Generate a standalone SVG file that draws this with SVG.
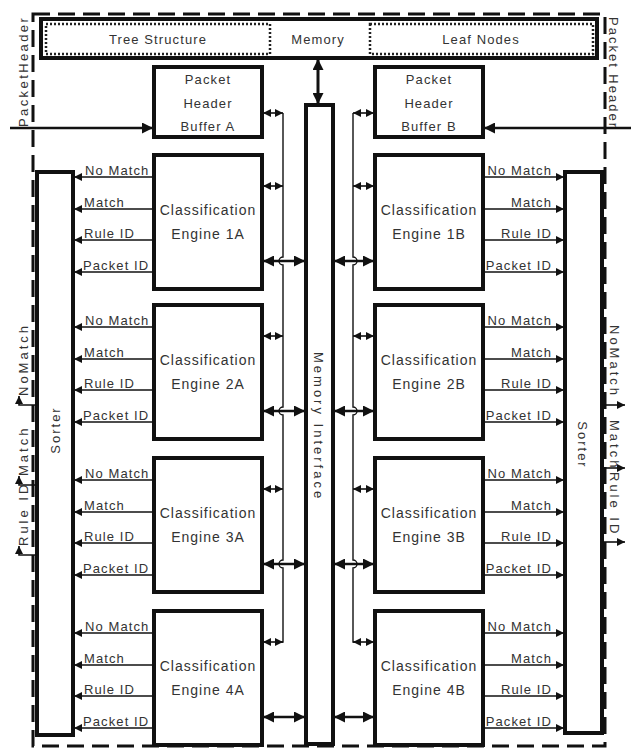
<svg xmlns="http://www.w3.org/2000/svg" width="631" height="749" viewBox="0 0 631 749">
<style>
.box{fill:#fff;stroke:#111;stroke-width:4}
.t{font-family:"Liberation Sans",Arial,sans-serif;font-size:13px;fill:#333;letter-spacing:1.1px}
.c{text-anchor:middle}
.e{text-anchor:end}
.eng{font-size:14px;letter-spacing:1px}
.sig{stroke:#111;stroke-width:1.6;fill:none;marker-end:url(#sa)}
.dbl{stroke:#111;stroke-width:1.6;fill:none;marker-start:url(#sa);marker-end:url(#sa)}
.big{stroke:#111;stroke-width:2.5;fill:none;marker-start:url(#ba);marker-end:url(#ba)}
.bus{stroke:#111;stroke-width:1.4;fill:none}
.dash{fill:none;stroke:#111;stroke-width:3;stroke-dasharray:17 8}
.dot{fill:none;stroke:#222;stroke-width:2.5;stroke-dasharray:2 2}
</style>
<defs>
<marker id="sa" viewBox="0 0 10 10" refX="10" refY="5" markerWidth="8" markerHeight="8" markerUnits="userSpaceOnUse" orient="auto-start-reverse"><path d="M0,0 L10,5 L0,10 z" fill="#111"/></marker>
<marker id="ba" viewBox="0 0 10 10" refX="10" refY="5" markerWidth="13" markerHeight="11" markerUnits="userSpaceOnUse" orient="auto-start-reverse"><path d="M0,0 L10,5 L0,10 z" fill="#111"/></marker>
<marker id="ha" viewBox="0 0 10 10" refX="10" refY="5" markerWidth="15" markerHeight="11" markerUnits="userSpaceOnUse" orient="auto"><path d="M0,0 L10,5 L0,10 z" fill="#111"/></marker>
</defs>
<rect width="631" height="749" fill="#fff"/>

<rect class="dash" x="33" y="14" width="572" height="732"/>

<g id="memory">
<rect x="41" y="19" width="556" height="39" fill="#fff" stroke="#111" stroke-width="4"/>
<rect class="dot" x="46" y="24" width="224" height="30"/>
<rect class="dot" x="370" y="24" width="223" height="30"/>
<text class="t c" x="158" y="44">Tree Structure</text>
<text class="t c" x="318" y="44">Memory</text>
<text class="t c" x="481" y="44">Leaf Nodes</text>
</g>

<g id="header-labels">
<text class="t" transform="translate(28,127) rotate(-90)" style="letter-spacing:2.4px">PacketHeader</text>
<text class="t" transform="translate(609,17) rotate(90)" style="letter-spacing:2px">Packet Header</text>
</g>

<g id="bufA">
<rect class="box" x="154" y="67" width="108" height="70"/>
<text class="t c" x="208" y="84">Packet</text>
<text class="t c" x="208" y="108">Header</text>
<text class="t c" x="208" y="131">Buffer A</text>
</g>
<g id="bufB">
<rect class="box" x="375" y="67" width="108" height="70"/>
<text class="t c" x="429" y="84">Packet</text>
<text class="t c" x="429" y="108">Header</text>
<text class="t c" x="429" y="131">Buffer B</text>
</g>

<g id="memif">
<rect class="box" x="306" y="105" width="27" height="639"/>
<text class="t" transform="translate(314,352) rotate(90)" style="letter-spacing:3px">Memory Interface</text>
</g>

<g id="sorterL">
<rect class="box" x="37" y="172" width="36" height="563"/>
<text class="t c" transform="translate(60,430) rotate(-90)" style="letter-spacing:2px">Sorter</text>
</g>
<g id="sorterR">
<rect class="box" x="565" y="172" width="37" height="561"/>
<text class="t c" transform="translate(578,445) rotate(90)" style="letter-spacing:2px">Sorter</text>
</g>

<g id="e1A"><rect class="box" x="154" y="155" width="108" height="134"/><text class="t c eng" x="208" y="215">Classification</text><text class="t c eng" x="208" y="239">Engine 1A</text></g>
<g id="e2A"><rect class="box" x="154" y="305" width="108" height="134"/><text class="t c eng" x="208" y="365">Classification</text><text class="t c eng" x="208" y="389">Engine 2A</text></g>
<g id="e3A"><rect class="box" x="154" y="458" width="108" height="134"/><text class="t c eng" x="208" y="518">Classification</text><text class="t c eng" x="208" y="542">Engine 3A</text></g>
<g id="e4A"><rect class="box" x="154" y="611" width="108" height="134"/><text class="t c eng" x="208" y="671">Classification</text><text class="t c eng" x="208" y="695">Engine 4A</text></g>
<g id="e1B"><rect class="box" x="375" y="155" width="108" height="134"/><text class="t c eng" x="429" y="215">Classification</text><text class="t c eng" x="429" y="239">Engine 1B</text></g>
<g id="e2B"><rect class="box" x="375" y="305" width="108" height="134"/><text class="t c eng" x="429" y="365">Classification</text><text class="t c eng" x="429" y="389">Engine 2B</text></g>
<g id="e3B"><rect class="box" x="375" y="458" width="108" height="134"/><text class="t c eng" x="429" y="518">Classification</text><text class="t c eng" x="429" y="542">Engine 3B</text></g>
<g id="e4B"><rect class="box" x="375" y="611" width="108" height="134"/><text class="t c eng" x="429" y="671">Classification</text><text class="t c eng" x="429" y="695">Engine 4B</text></g>

<g id="connectors">
<!-- header inputs -->
<path d="M10,128 H153" stroke="#111" stroke-width="2.5" fill="none" marker-end="url(#ha)"/>
<path d="M631,128 H484" stroke="#111" stroke-width="2.5" fill="none" marker-end="url(#ha)"/>
<!-- memory to interface -->
<path d="M318,59 V104" stroke="#111" stroke-width="3" fill="none" marker-start="url(#ba)" marker-end="url(#ba)"/>
<!-- buses -->
<path class="bus" d="M283,113 V257 a4,4 0 0 0 0,8 V407 a4,4 0 0 0 0,8 V560 a4,4 0 0 0 0,8 V642 H279"/>
<path class="bus" d="M353,113 V257 a4,4 0 0 1 0,8 V407 a4,4 0 0 1 0,8 V560 a4,4 0 0 1 0,8 V642 H357"/>
<!-- small bus taps -->
<path class="dbl" d="M263,113 H283"/>
<path class="dbl" d="M263,186 H283"/>
<path class="dbl" d="M263,336 H283"/>
<path class="dbl" d="M263,489 H283"/>
<path class="dbl" d="M263,642 H283"/>
<path class="dbl" d="M374,113 H353"/>
<path class="dbl" d="M374,186 H353"/>
<path class="dbl" d="M374,336 H353"/>
<path class="dbl" d="M374,489 H353"/>
<path class="dbl" d="M374,642 H353"/>
<!-- engine to memory interface -->
<path class="big" d="M263,261 H305"/>
<path class="big" d="M263,411 H305"/>
<path class="big" d="M263,564 H305"/>
<path class="big" d="M263,717 H305"/>
<path class="big" d="M334,261 H374"/>
<path class="big" d="M334,411 H374"/>
<path class="big" d="M334,564 H374"/>
<path class="big" d="M334,717 H374"/>
<!-- A signals -->
<path class="sig" d="M154,177 H74"/><path class="sig" d="M154,209 H74"/><path class="sig" d="M154,240 H74"/><path class="sig" d="M154,272 H74"/>
<path class="sig" d="M154,327 H74"/><path class="sig" d="M154,359 H74"/><path class="sig" d="M154,390 H74"/><path class="sig" d="M154,422 H74"/>
<path class="sig" d="M154,480 H74"/><path class="sig" d="M154,512 H74"/><path class="sig" d="M154,543 H74"/><path class="sig" d="M154,575 H74"/>
<path class="sig" d="M154,633 H74"/><path class="sig" d="M154,665 H74"/><path class="sig" d="M154,696 H74"/><path class="sig" d="M154,728 H74"/>
<!-- B signals -->
<path class="sig" d="M483,177 H564"/><path class="sig" d="M483,209 H564"/><path class="sig" d="M483,240 H564"/><path class="sig" d="M483,272 H564"/>
<path class="sig" d="M483,327 H564"/><path class="sig" d="M483,359 H564"/><path class="sig" d="M483,390 H564"/><path class="sig" d="M483,422 H564"/>
<path class="sig" d="M483,480 H564"/><path class="sig" d="M483,512 H564"/><path class="sig" d="M483,543 H564"/><path class="sig" d="M483,575 H564"/>
<path class="sig" d="M483,633 H564"/><path class="sig" d="M483,665 H564"/><path class="sig" d="M483,696 H564"/><path class="sig" d="M483,728 H564"/>
<!-- sorter outputs -->
<path class="sig" d="M37,405 H19 V396"/>
<path class="sig" d="M37,485 H19 V476"/>
<path class="sig" d="M37,555 H19 V546"/>
<path class="sig" d="M602,405 H625"/>
<path class="sig" d="M602,468 H625"/>
<path class="sig" d="M602,542 H625"/>
</g>

<g id="signal-labels">
<text class="t" x="85" y="175">No Match</text><text class="t" x="84" y="207">Match</text><text class="t" x="84" y="238">Rule ID</text><text class="t" x="83" y="270">Packet ID</text>
<text class="t" x="85" y="325">No Match</text><text class="t" x="84" y="357">Match</text><text class="t" x="84" y="388">Rule ID</text><text class="t" x="83" y="420">Packet ID</text>
<text class="t" x="85" y="478">No Match</text><text class="t" x="84" y="510">Match</text><text class="t" x="84" y="541">Rule ID</text><text class="t" x="83" y="573">Packet ID</text>
<text class="t" x="85" y="631">No Match</text><text class="t" x="84" y="663">Match</text><text class="t" x="84" y="694">Rule ID</text><text class="t" x="83" y="726">Packet ID</text>
<text class="t e" x="552" y="175">No Match</text><text class="t e" x="552" y="207">Match</text><text class="t e" x="552" y="238">Rule ID</text><text class="t e" x="552" y="270">Packet ID</text>
<text class="t e" x="552" y="325">No Match</text><text class="t e" x="552" y="357">Match</text><text class="t e" x="552" y="388">Rule ID</text><text class="t e" x="552" y="420">Packet ID</text>
<text class="t e" x="552" y="478">No Match</text><text class="t e" x="552" y="510">Match</text><text class="t e" x="552" y="541">Rule ID</text><text class="t e" x="552" y="573">Packet ID</text>
<text class="t e" x="552" y="631">No Match</text><text class="t e" x="552" y="663">Match</text><text class="t e" x="552" y="694">Rule ID</text><text class="t e" x="552" y="726">Packet ID</text>
</g>

<g id="sorter-outputs">
<text class="t" transform="translate(28,396) rotate(-90)" style="letter-spacing:3px">NoMatch</text>
<text class="t" transform="translate(28,476) rotate(-90)" style="letter-spacing:3px">Match</text>
<text class="t" transform="translate(28,546) rotate(-90)" style="letter-spacing:3px">Rule ID</text>
<text class="t" transform="translate(610,325) rotate(90)" style="letter-spacing:3px">NoMatch</text>
<text class="t" transform="translate(610,420) rotate(90)" style="letter-spacing:3px">Match</text>
<text class="t" transform="translate(610,472) rotate(90)" style="letter-spacing:3px">Rule ID</text>
</g>
</svg>
